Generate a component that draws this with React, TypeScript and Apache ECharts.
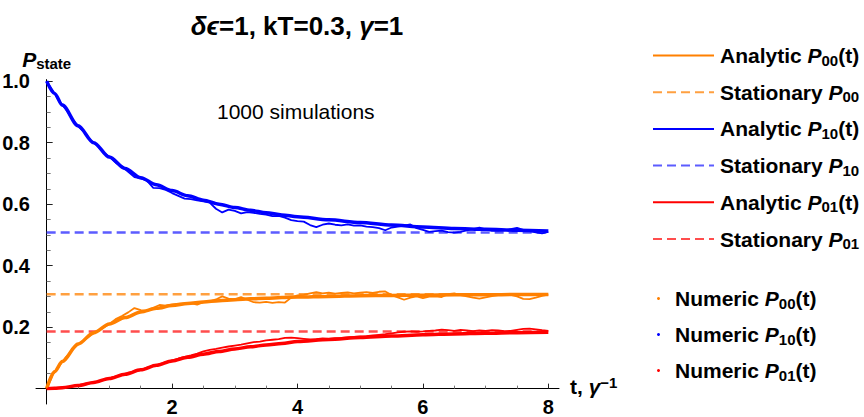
import React, { useEffect, useRef } from "react";
import * as echarts from "echarts";

const FONT = '"Liberation Sans", Arial, Helvetica, sans-serif';

// Analytic curves
const T_ANALYTIC = [0, 0.125, 0.25, 0.5, 0.75, 1, 1.25, 1.5, 1.75, 2, 2.25, 2.5, 2.75, 3, 3.25, 3.5, 3.75, 4, 4.5, 5, 5.5, 6, 6.5, 7, 7.5, 8];
const ANALYTIC_P00 = [0, 0.055, 0.088, 0.145, 0.182, 0.21, 0.231, 0.249, 0.261, 0.27, 0.277, 0.282, 0.286, 0.289, 0.292, 0.294, 0.296, 0.298, 0.3, 0.302, 0.303, 0.304, 0.305, 0.305, 0.306, 0.306];
const ANALYTIC_P10 = [1.0, 0.96, 0.922, 0.855, 0.8, 0.753, 0.716, 0.686, 0.663, 0.644, 0.627, 0.613, 0.6, 0.589, 0.58, 0.572, 0.565, 0.559, 0.549, 0.54, 0.532, 0.526, 0.521, 0.518, 0.515, 0.513];
const ANALYTIC_P01 = [0, 0.001, 0.003, 0.01, 0.02, 0.033, 0.047, 0.061, 0.076, 0.09, 0.102, 0.112, 0.121, 0.129, 0.136, 0.142, 0.147, 0.153, 0.16, 0.166, 0.171, 0.175, 0.178, 0.18, 0.182, 0.183];

// Stationary values
const T_RANGE = [0, 8];
const STATIONARY_P00 = 0.307;
const STATIONARY_P10 = 0.508;
const STATIONARY_P01 = 0.186;

// Numeric (1000 simulations)
const T_NUMERIC = [
  0, 0.1, 0.2, 0.3, 0.4, 0.5, 0.6, 0.7, 0.8, 0.9,
  1, 1.1, 1.2, 1.3, 1.4, 1.5, 1.6, 1.7, 1.8, 1.9,
  2, 2.1, 2.2, 2.3, 2.4, 2.5, 2.6, 2.7, 2.8, 2.9,
  3, 3.1, 3.2, 3.3, 3.4, 3.5, 3.6, 3.7, 3.8, 3.9,
  4, 4.1, 4.2, 4.3, 4.4, 4.5, 4.6, 4.7, 4.8, 4.9,
  5, 5.1, 5.2, 5.3, 5.4, 5.5, 5.6, 5.7, 5.8, 5.9,
  6, 6.1, 6.2, 6.3, 6.4, 6.5, 6.6, 6.7, 6.8, 6.9,
  7, 7.1, 7.2, 7.3, 7.4, 7.5, 7.6, 7.7, 7.8, 7.9,
  8,
];
const NUMERIC_P00 = [
  0, 0.045, 0.073, 0.101, 0.124, 0.143, 0.158, 0.173, 0.186, 0.197,
  0.21, 0.226, 0.236, 0.248, 0.262, 0.255, 0.253, 0.263, 0.272, 0.27,
  0.274, 0.276, 0.277, 0.278, 0.273, 0.281, 0.284, 0.29, 0.3, 0.293,
  0.29, 0.298, 0.289, 0.281, 0.28, 0.282, 0.279, 0.281, 0.28, 0.296,
  0.303, 0.305, 0.31, 0.314, 0.31, 0.312, 0.309, 0.311, 0.313, 0.31,
  0.312, 0.314, 0.311, 0.315, 0.316, 0.304, 0.297, 0.289, 0.296, 0.3,
  0.294, 0.299, 0.3, 0.298, 0.307, 0.31, 0.304, 0.3, 0.296, 0.293,
  0.297, 0.301, 0.304, 0.308, 0.305, 0.3, 0.292, 0.291, 0.296, 0.302,
  0.306,
];
const NUMERIC_P10 = [
  1.0, 0.969, 0.935, 0.91, 0.88, 0.853, 0.834, 0.808, 0.792, 0.769,
  0.754, 0.735, 0.722, 0.705, 0.688, 0.684, 0.676, 0.653, 0.652, 0.646,
  0.636, 0.627, 0.618, 0.616, 0.612, 0.609, 0.605, 0.585, 0.573, 0.582,
  0.578, 0.57, 0.574, 0.572, 0.568, 0.566, 0.561, 0.562, 0.556, 0.548,
  0.545, 0.543, 0.532, 0.525, 0.533, 0.537, 0.533, 0.531, 0.534, 0.53,
  0.531, 0.527, 0.525, 0.522, 0.515, 0.524, 0.527, 0.53, 0.534, 0.522,
  0.516, 0.51, 0.512, 0.514, 0.509, 0.507, 0.51, 0.515, 0.519, 0.524,
  0.518, 0.513, 0.513, 0.515, 0.519, 0.523, 0.516, 0.512, 0.508, 0.505,
  0.51,
];
const NUMERIC_P01 = [
  0, 0.001, 0.002, 0.004, 0.007, 0.01, 0.014, 0.018, 0.023, 0.028,
  0.034, 0.04, 0.044, 0.052, 0.056, 0.061, 0.068, 0.074, 0.08, 0.086,
  0.092, 0.098, 0.103, 0.108, 0.114, 0.121, 0.126, 0.129, 0.133, 0.137,
  0.14, 0.143, 0.147, 0.151, 0.153, 0.157, 0.159, 0.161, 0.165, 0.166,
  0.164, 0.162, 0.16, 0.161, 0.163, 0.162, 0.164, 0.165, 0.167, 0.168,
  0.17, 0.171, 0.173, 0.175, 0.177, 0.18, 0.183, 0.185, 0.186, 0.185,
  0.186, 0.188, 0.189, 0.192, 0.19, 0.188, 0.191, 0.189, 0.187, 0.189,
  0.188, 0.19, 0.189, 0.187, 0.188, 0.191, 0.194, 0.195, 0.193, 0.19,
  0.188,
];

const X_TICKS = [2, 4, 6, 8];
const Y_TICKS = [0.2, 0.4, 0.6, 0.8, 1.0];

const ORANGE = "#ff8000";
const BLUE = "#0000ff";
const RED = "#ff0000";
const ORANGE_D = "#ffa040";
const BLUE_D = "#5c5cff";
const RED_D = "#ff4d4d";

const pairs = (xs: number[], ys: number[]) => xs.map((x, i) => [x, ys[i]]);
const flat = (v: number) => T_RANGE.map((x) => [x, v]);

const LEGEND_LABELS: Record<string, string> = {
  "Analytic P00(t)": "{b|Analytic }{i|P}{s|00}{b|(t)}",
  "Stationary P00": "{b|Stationary }{i|P}{s|00}",
  "Analytic P10(t)": "{b|Analytic }{i|P}{s|10}{b|(t)}",
  "Stationary P10": "{b|Stationary }{i|P}{s|10}",
  "Analytic P01(t)": "{b|Analytic }{i|P}{s|01}{b|(t)}",
  "Stationary P01": "{b|Stationary }{i|P}{s|01}",
  "Numeric P00(t)": "{b|Numeric }{i|P}{s|00}{b|(t)}",
  "Numeric P10(t)": "{b|Numeric }{i|P}{s|10}{b|(t)}",
  "Numeric P01(t)": "{b|Numeric }{i|P}{s|01}{b|(t)}",
};

const rich = {
  b: { fontFamily: FONT, fontWeight: "bold", fontSize: 21, lineHeight: 24, color: "#000" },
  i: { fontFamily: FONT, fontWeight: "bold", fontStyle: "italic", fontSize: 21, lineHeight: 24, color: "#000" },
  s: { fontFamily: FONT, fontWeight: "bold", fontSize: 15, lineHeight: 12, verticalAlign: "bottom", color: "#000" },
  sup: { fontFamily: FONT, fontWeight: "bold", fontSize: 15, lineHeight: 12, verticalAlign: "top", color: "#000" },
};

export default function App() {
  const ref = useRef<HTMLDivElement>(null);
  useEffect(() => {
    if (!ref.current) return;
    const chart = echarts.init(ref.current, undefined, { renderer: "svg" });
    const lineSeries = (name: string, data: number[][], color: string, width: number, dashed: boolean, z: number) => ({
      name,
      type: "line",
      data,
      symbol: "none",
      smooth: dashed ? false : 0.3,
      smoothMonotone: "x",
      z,
      lineStyle: { color, width, type: dashed ? [9, 5] : "solid" },
      itemStyle: { color },
    });
    const option: any = {
      animation: false,
      backgroundColor: "#fff",
      title: {
        text: "{i|δϵ}{b|=1, kT=0.3, }{i|γ}{b|=1}",
        left: 297,
        top: 13,
        padding: 0,
        textAlign: "center",
        textStyle: {
          rich: {
            b: { fontFamily: FONT, fontWeight: "bold", fontSize: 26, color: "#000" },
            i: { fontFamily: FONT, fontWeight: "bold", fontStyle: "italic", fontSize: 26, color: "#000" },
          },
        },
      },
      grid: { left: 36, top: 79.6, width: 523, height: 324.4, containLabel: false, outerBoundsMode: "none" },
      xAxis: {
        type: "value",
        min: -0.17,
        max: 8.17,
        name: "{b|t, }{i|γ}{sup|−1}",
        nameLocation: "end",
        nameGap: 11,
        nameTextStyle: { rich, padding: [0, 0, 4, 0], verticalAlign: "middle" },
        axisLine: { onZero: true, lineStyle: { color: "#000", width: 1 } },
        axisTick: { show: true, inside: true, length: 5, customValues: X_TICKS, lineStyle: { color: "#222" } },
        minorTick: { show: true, splitNumber: 4, length: 3, lineStyle: { color: "#777" } },
        axisLabel: {
          customValues: X_TICKS,
          margin: -3,
          lineHeight: 12,
          fontFamily: FONT,
          fontWeight: "bold",
          fontSize: 20,
          color: "#000",
          formatter: (v: number) => String(v),
        },
        splitLine: { show: false },
      },
      yAxis: {
        type: "value",
        min: -0.05,
        max: 1.005,
        name: "{i|P}{s|state}",
        nameLocation: "end",
        nameGap: 8,
        nameTextStyle: { rich, align: "center" },
        axisLine: { onZero: true, lineStyle: { color: "#000", width: 1 } },
        axisTick: { show: true, inside: true, length: 6, customValues: Y_TICKS, lineStyle: { color: "#222" } },
        minorTick: { show: true, splitNumber: 4, length: 4, lineStyle: { color: "#777" } },
        axisLabel: {
          customValues: Y_TICKS,
          margin: 6,
          fontFamily: FONT,
          fontWeight: "bold",
          fontSize: 20,
          color: "#000",
          formatter: (v: number) => v.toFixed(1),
        },
        splitLine: { show: false },
      },
      legend: [
        {
          orient: "vertical",
          left: 647,
          top: 40,
          itemWidth: 61,
          itemHeight: 2,
          itemGap: 14.2,
          selectedMode: false,
          itemStyle: { opacity: 0 },
          data: ["Analytic P00(t)", "Stationary P00", "Analytic P10(t)", "Stationary P10", "Analytic P01(t)", "Stationary P01"],
          formatter: (name: string) => LEGEND_LABELS[name],
          textStyle: { rich, padding: [0, 0, 0, 1] },
        },
        {
          orient: "vertical",
          left: 652,
          top: 283,
          itemWidth: 3,
          itemHeight: 3,
          itemGap: 13.5,
          selectedMode: false,
          data: [
            { name: "Numeric P00(t)", icon: "circle" },
            { name: "Numeric P10(t)", icon: "circle" },
            { name: "Numeric P01(t)", icon: "circle" },
          ],
          formatter: (name: string) => LEGEND_LABELS[name],
          textStyle: { rich, padding: [0, 0, 0, 10] },
        },
      ],
      graphic: [
        {
          type: "text",
          left: 217,
          top: 101,
          style: { text: "1000 simulations", font: `21px ${FONT}`, fill: "#000" },
        },
      ],
      series: [
        lineSeries("Stationary P00", flat(STATIONARY_P00), ORANGE_D, 2.5, true, 2),
        lineSeries("Stationary P10", flat(STATIONARY_P10), BLUE_D, 2.5, true, 2),
        lineSeries("Stationary P01", flat(STATIONARY_P01), RED_D, 2.5, true, 2),
        lineSeries("Analytic P00(t)", pairs(T_ANALYTIC, ANALYTIC_P00), ORANGE, 3.5, false, 3),
        lineSeries("Analytic P10(t)", pairs(T_ANALYTIC, ANALYTIC_P10), BLUE, 3.5, false, 3),
        lineSeries("Analytic P01(t)", pairs(T_ANALYTIC, ANALYTIC_P01), RED, 3.5, false, 3),
        { ...lineSeries("Numeric P00(t)", pairs(T_NUMERIC, NUMERIC_P00), ORANGE, 1.8, false, 4), smooth: false },
        { ...lineSeries("Numeric P10(t)", pairs(T_NUMERIC, NUMERIC_P10), BLUE, 1.8, false, 4), smooth: false },
        { ...lineSeries("Numeric P01(t)", pairs(T_NUMERIC, NUMERIC_P01), RED, 1.8, false, 4), smooth: false },
      ],
    };
    chart.setOption(option);
    return () => chart.dispose();
  }, []);
  return <div ref={ref} style={{ position: "fixed", left: 0, top: 0, width: 864, height: 417 }} />;
}
